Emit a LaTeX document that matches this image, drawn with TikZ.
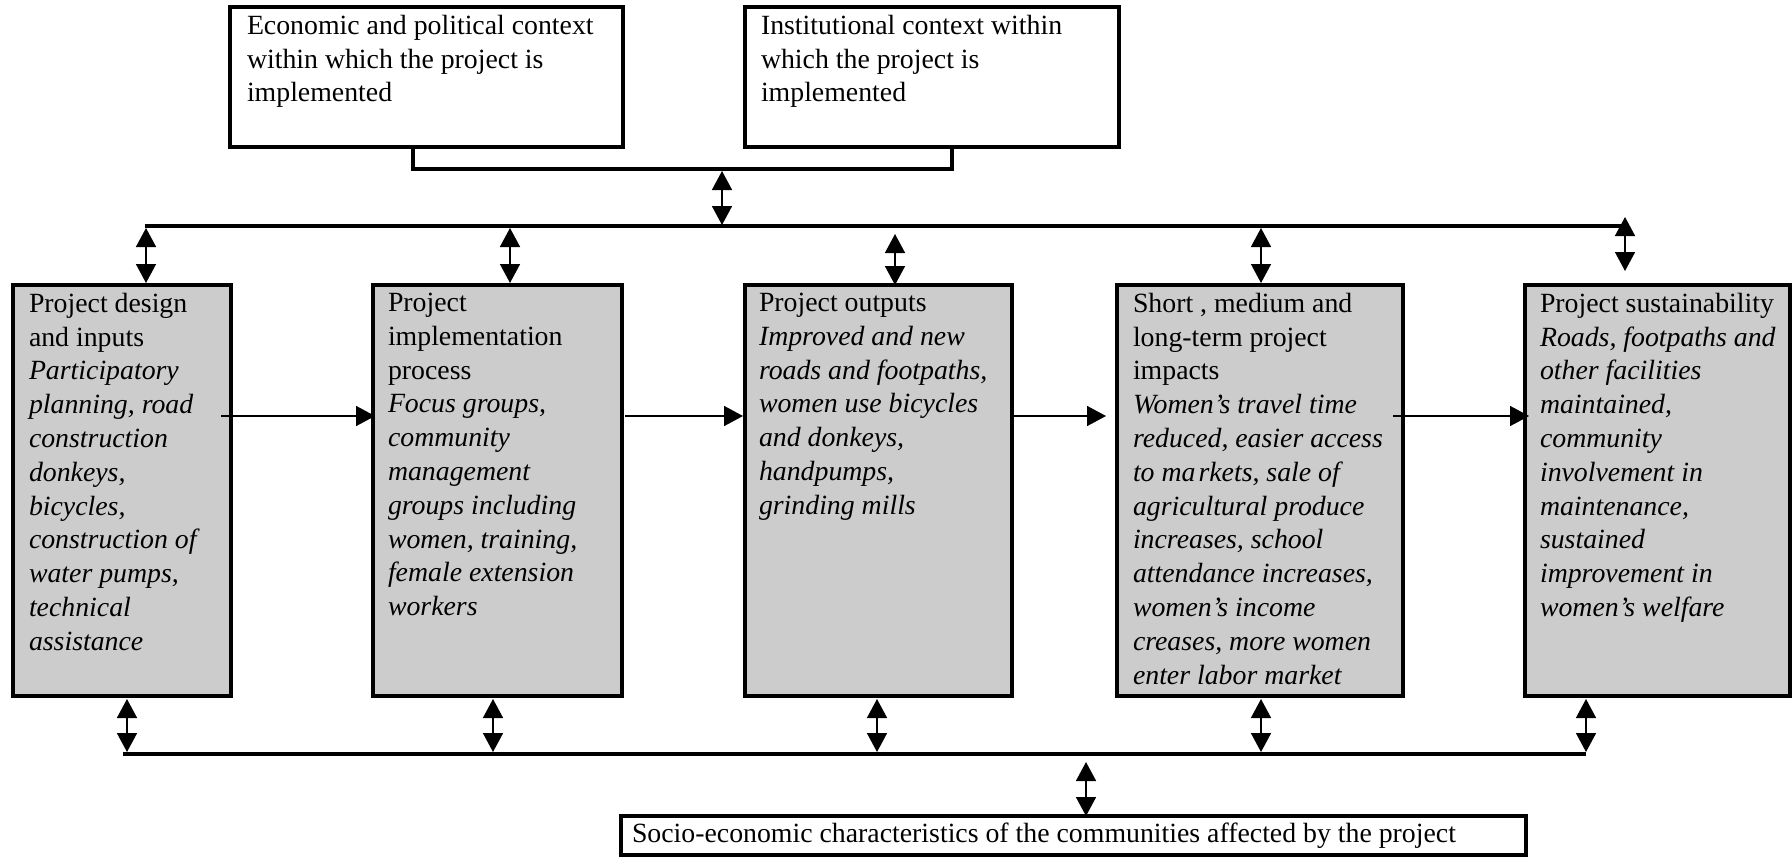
\documentclass[tikz,border=0pt]{standalone}
\usepackage{fontspec}
\setmainfont{Liberation Serif}
\usetikzlibrary{arrows.meta,calc}
\definecolor{boxgray}{RGB}{204,204,204}
\begin{document}
\begin{tikzpicture}[x=0.5pt,y=-0.5pt,
  every node/.style={inner sep=0pt, outer sep=0pt},
  frame/.style={draw=black, line width=1.6pt, anchor=north west, rectangle},
  gbox/.style={frame, fill=boxgray},
  txt/.style={anchor=north west, align=left, font=\fontsize{13.9pt}{16.9pt}\selectfont},
  dbl/.style={line width=0.8pt, {Triangle[length=9.5pt,width=10pt]}-{Triangle[length=9.5pt,width=10pt]}},
  harrow/.style={line width=0.8pt, -{Triangle[length=9.5pt,width=10pt]}},
  bus/.style={line width=1.6pt},
]
\useasboundingbox (0,0) rectangle (1792,857);

% context boxes
\node[frame, minimum width=393*0.5pt, minimum height=140*0.5pt] (top1) at (230,7) {};
\node[frame, minimum width=374*0.5pt, minimum height=140*0.5pt] (top2) at (745,7) {};
\node[txt] (top1t) at ($(top1.north west)+(17,8)$) {Economic and political context\\within which the project is\\implemented};
\node[txt] (top2t) at ($(top2.north west)+(16,8)$) {Institutional context within\\which the project is\\implemented};

% main boxes
\node[gbox, minimum width=218*0.5pt, minimum height=411*0.5pt] (b1) at (13,285) {};
\node[gbox, minimum width=249*0.5pt, minimum height=411*0.5pt] (b2) at (373,285) {};
\node[gbox, minimum width=267*0.5pt, minimum height=411*0.5pt] (b3) at (745,285) {};
\node[gbox, minimum width=286*0.5pt, minimum height=411*0.5pt] (b4) at (1117,285) {};
\node[gbox, minimum width=265*0.5pt, minimum height=411*0.5pt] (b5) at (1525,285) {};

\node[txt] (b1t) at ($(b1.north west)+(16,8)$) {Project design\\and inputs\\\textit{Participatory}\\\textit{planning, road}\\\textit{construction}\\\textit{donkeys,}\\\textit{bicycles,}\\\textit{construction of}\\\textit{water pumps,}\\\textit{technical}\\\textit{assistance}};
\node[txt] (b2t) at ($(b2.north west)+(15,8)$) {Project\\implementation\\process\\\textit{Focus groups,}\\\textit{community}\\\textit{management}\\\textit{groups including}\\\textit{women, training,}\\\textit{female extension}\\\textit{workers}};
\node[txt] (b3t) at ($(b3.north west)+(14,8)$) {Project outputs\\\textit{Improved and new}\\\textit{roads and footpaths,}\\\textit{women use bicycles}\\\textit{and donkeys,}\\\textit{handpumps,}\\\textit{grinding mills}};
\node[txt] (b4t) at ($(b4.north west)+(16,8)$) {Short , medium and\\long-term project\\impacts\\\textit{Women’s travel time}\\\textit{reduced, easier access}\\\textit{to ma\kern1.5pt rkets, sale of}\\\textit{agricultural produce}\\\textit{increases, school}\\\textit{attendance increases,}\\\textit{women’s income}\\\textit{creases, more women}\\\textit{enter labor market}};
\node[txt] (b5t) at ($(b5.north west)+(15,8)$) {Project sustainability\\\textit{Roads, footpaths and}\\\textit{other facilities}\\\textit{maintained,}\\\textit{community}\\\textit{involvement in}\\\textit{maintenance,}\\\textit{sustained}\\\textit{improvement in}\\\textit{women’s welfare}};

% socio-economic box
\node[frame, minimum width=905*0.5pt, minimum height=39*0.5pt] (bot) at (621,816) {};
\node[txt, anchor=west] (bott) at ($(bot.west)+(11,0)$) {Socio-economic characteristics of the communities affected by the project};

% bracket joining the context boxes
\coordinate (brl) at (413,169);
\coordinate (brr) at (952,169);
\draw[bus] (top1.south -| brl) -- (brl) -- (brr) -- (top2.south -| brr);
\coordinate (ca) at (722,171);
\coordinate (cb) at (722,225);
\draw[dbl] (ca) -- (cb);

% top bus
\coordinate (tl) at (145,226);
\coordinate (tr) at (1625,226);
\draw[bus] (tl) -- (tr);
\coordinate (u1) at (146,228);
\coordinate (u2) at (510,228);
\coordinate (u3) at (895,234);
\coordinate (u4) at (1261,228);
\coordinate (u5) at (1625,217);
\coordinate (u5b) at (1625,271);
\draw[dbl] (u1) -- ($(b1.north -| u1)+(0,-2)$);
\draw[dbl] (u2) -- ($(b2.north -| u2)+(0,-2)$);
\draw[dbl] (u3) -- (b3.north -| u3);
\draw[dbl] (u4) -- ($(b4.north -| u4)+(0,-2)$);
\draw[dbl] (u5) -- (u5b);

% horizontal flow arrows
\coordinate (ay) at (0,416);
\draw[harrow] ($(b1.east |- ay)+(-10,0)$) -- ($(b2.west |- ay)+(2,0)$);
\draw[harrow] ($(b2.east |- ay)+(3,0)$) -- ($(b3.west |- ay)+(-2,0)$);
\draw[harrow] ($(b3.east |- ay)+(-2,0)$) -- ($(b4.west |- ay)+(-11,0)$);
\draw[harrow] ($(b4.east |- ay)+(-10,0)$) -- ($(b5.west |- ay)+(4,0)$);

% bottom bus
\coordinate (bl) at (123,754);
\coordinate (br) at (1586,754);
\draw[bus] (bl) -- (br);
\coordinate (v1) at (127,752);
\coordinate (v2) at (493,752);
\coordinate (v3) at (877,752);
\coordinate (v4) at (1261,752);
\coordinate (v5) at (1586,752);
\draw[dbl] ($(b1.south -| v1)+(0,3)$) -- (v1);
\draw[dbl] ($(b2.south -| v2)+(0,3)$) -- (v2);
\draw[dbl] ($(b3.south -| v3)+(0,3)$) -- (v3);
\draw[dbl] ($(b4.south -| v4)+(0,3)$) -- (v4);
\draw[dbl] ($(b5.south -| v5)+(0,3)$) -- (v5);
\coordinate (w1) at (1086,762);
\draw[dbl] (w1) -- (bot.north -| w1);
\end{tikzpicture}
\end{document}
